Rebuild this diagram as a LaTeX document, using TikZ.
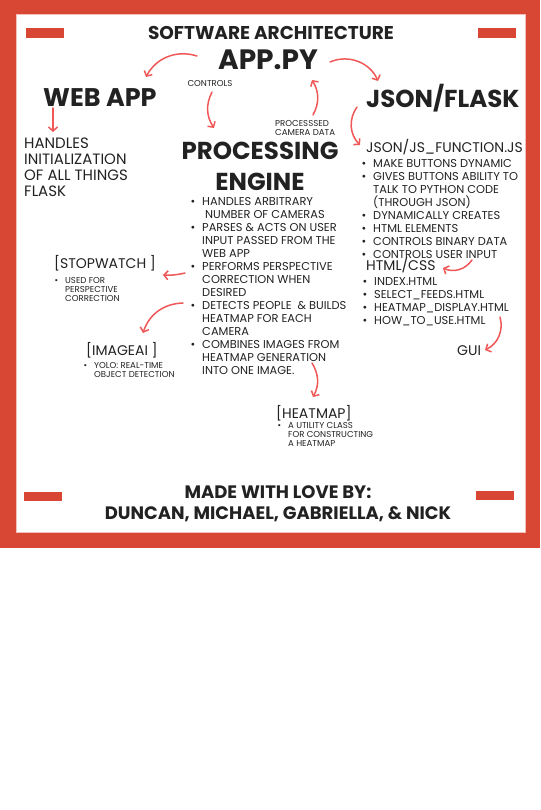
\documentclass[tikz,border=0pt]{standalone}
\usepackage{fontspec}
\setmainfont{Poppins}
\usetikzlibrary{arrows.meta}
\definecolor{framered}{RGB}{216,70,52}
\definecolor{flowred}{RGB}{240,88,88}
\definecolor{inkdark}{RGB}{34,34,34}
\tikzset{
  bighead/.style={font=\bfseries\fontsize{24.5}{31}\selectfont,text=inkdark,
    inner sep=0pt,align=center},
  subhead/.style={font=\bfseries\fontsize{18.5}{22}\selectfont,text=inkdark,
    inner sep=0pt,align=center},
  plain/.style={font=\fontsize{14}{16}\selectfont,text=inkdark,
    inner sep=0pt,align=left,anchor=base west},
  listtext/.style={font=\fontsize{11.4}{13}\selectfont,text=inkdark,
    inner sep=0pt,align=left,anchor=north west},
  tinytext/.style={font=\fontsize{8.6}{9}\selectfont,text=inkdark,
    inner sep=0pt,align=left,anchor=north west},
  bar/.style={fill=framered},
  flow/.style={-{Straight Barb[length=4pt,width=9pt]},line width=1.5pt,
    draw=flowred,line cap=round}
}
\newcommand{\bul}{\leavevmode\llap{\textbullet\hspace{7pt}}}

\begin{document}
\begin{tikzpicture}[x=1pt,y=1pt]
  \useasboundingbox (0,0) rectangle (540,-810);
  \fill[white] (0,0) rectangle (540,-810);
  % frame and bars
  \fill[framered] (0,0) rectangle (540,-548);
  \fill[white] (16,-15) rectangle (525,-532);
  \draw[framered!35,line width=1pt] (16,-15) rectangle (525,-532);
  \fill[bar] (26,-28) rectangle (64,-38);
  \fill[bar] (478,-28) rectangle (516,-38);
  \fill[bar] (24,-492) rectangle (62,-501);
  \fill[bar] (476,-491) rectangle (514,-500);

  % headings
  \node[subhead,anchor=base] (title) at (271,-40) {SOFTWARE ARCHITECTURE};
  \node[bighead,anchor=base,font=\bfseries\fontsize{28}{32}\selectfont]
    (apppy) at (268,-70) {APP.PY};
  \node[bighead,anchor=base west,font=\bfseries\fontsize{25.5}{31}\selectfont]
    (webapp) at (43,-107) {WEB APP};
  \node[bighead,anchor=base west] (jsonflask) at (366,-108) {JSON/FLASK};
  \node[bighead,anchor=north] (engine) at (260,-142) {PROCESSING\\ENGINE};
  \node[tinytext,anchor=north] (controls) at (210,-80) {CONTROLS};
  \node[tinytext] (camdata) at (275,-120) {PROCESSSED\\CAMERA DATA};

  % left column
  \node[plain,anchor=north west,font=\fontsize{15}{16}\selectfont] (webinfo)
    at (24,-138) {HANDLES\\INITIALIZATION\\OF ALL THINGS\\FLASK};
  \node[plain] (stopwatch) at (54,-268) {[STOPWATCH ]};
  \node[tinytext] (stopinfo) at (65,-277)
    {\bul USED FOR\\PERSPECTIVE\\CORRECTION};
  \node[plain] (imageai) at (86,-355) {[IMAGEAI ]};
  \node[tinytext] (imageinfo) at (94,-362)
    {\bul YOLO: REAL-TIME\\OBJECT DETECTION};

  % engine list
  \node[listtext] (enginelist) at (202,-197)
    {\bul HANDLES ARBITRARY\\
     \hspace{3pt}NUMBER OF CAMERAS\\
     \bul PARSES \& ACTS ON USER\\
     INPUT PASSED FROM THE\\
     WEB APP\\
     \bul PERFORMS PERSPECTIVE\\
     CORRECTION WHEN\\
     DESIRED\\
     \bul DETECTS PEOPLE\ \ \& BUILDS\\
     HEATMAP FOR EACH\\
     CAMERA\\
     \bul COMBINES IMAGES FROM\\
     HEATMAP GENERATION\\
     INTO ONE IMAGE.};
  \node[plain] (heatmap) at (276,-418) {[HEATMAP]};
  \node[tinytext] (heatinfo) at (288,-422)
    {\bul A UTILITY CLASS\\FOR CONSTRUCTING\\A HEATMAP};

  % right column
  \node[plain] (jsfunc) at (366,-153) {JSON/JS\_FUNCTION.JS};
  \node[listtext] (jslist) at (373,-159)
    {\bul MAKE BUTTONS DYNAMIC\\
     \bul GIVES BUTTONS ABILITY TO\\
     TALK TO PYTHON CODE\\
     (THROUGH JSON)\\
     \bul DYNAMICALLY CREATES\\
     \bul HTML ELEMENTS\\
     \bul CONTROLS BINARY DATA\\
     \bul CONTROLS USER INPUT};
  \node[plain] (htmlcss) at (366,-270) {HTML/CSS};
  \node[listtext] (htmllist) at (374,-277)
    {\bul INDEX.HTML\\
     \bul SELECT\_FEEDS.HTML\\
     \bul HEATMAP\_DISPLAY.HTML\\
     \bul HOW\_TO\_USE.HTML};
  \node[plain] (gui) at (457,-355) {GUI};

  % footer
  \node[subhead,anchor=base,font=\bfseries\fontsize{18}{21}\selectfont]
    (credits) at (278,-519)
    {MADE WITH LOVE BY:\\DUNCAN, MICHAEL, GABRIELLA, \& NICK};

  % connector ends
  \coordinate (appwest) at (197,-56);
  \coordinate (webtop) at (146,-77);
  \coordinate (appeast) at (330,-62);
  \coordinate (jsontop) at (378,-81);
  \coordinate (ctrlfrom) at (212,-92);
  \coordinate (enginetop) at (214,-128);
  \coordinate (camfrom) at (313,-115);
  \coordinate (appbottom) at (312,-80);
  \coordinate (jsonbottom) at (357,-107);
  \coordinate (jsfunctop) at (360,-145);
  \coordinate (webbottom) at (53,-108);
  \coordinate (webinfotop) at (53,-132);
  \coordinate (perspfrom) at (185,-273);
  \coordinate (stopeast) at (163,-275);
  \coordinate (detectfrom) at (183,-303);
  \coordinate (imagetop) at (143,-333);
  \coordinate (combinefrom) at (312,-363);
  \coordinate (heattop) at (313,-397);
  \coordinate (inputfrom) at (472,-260);
  \coordinate (htmleast) at (443,-268);
  \coordinate (howfrom) at (500,-317);
  \coordinate (guieast) at (485,-350);

  \draw[flow] (appwest) to[bend right=40] (webtop);
  \draw[flow] (appeast) to[bend left=45] (jsontop);
  \draw[flow] (ctrlfrom) to[bend right=30] (enginetop);
  \draw[flow] (camfrom) to[bend right=30] (appbottom);
  \draw[flow] (jsonbottom) to[bend right=40] (jsfunctop);
  \draw[flow] (webbottom) -- (webinfotop);
  \draw[flow] (perspfrom) to[bend left=8] (stopeast);
  \draw[flow] (detectfrom) to[bend right=35] (imagetop);
  \draw[flow] (combinefrom) to[bend left=30] (heattop);
  \draw[flow] (inputfrom) to[bend left=40] (htmleast);
  \draw[flow] (howfrom) to[bend left=40] (guieast);
\end{tikzpicture}
\end{document}
